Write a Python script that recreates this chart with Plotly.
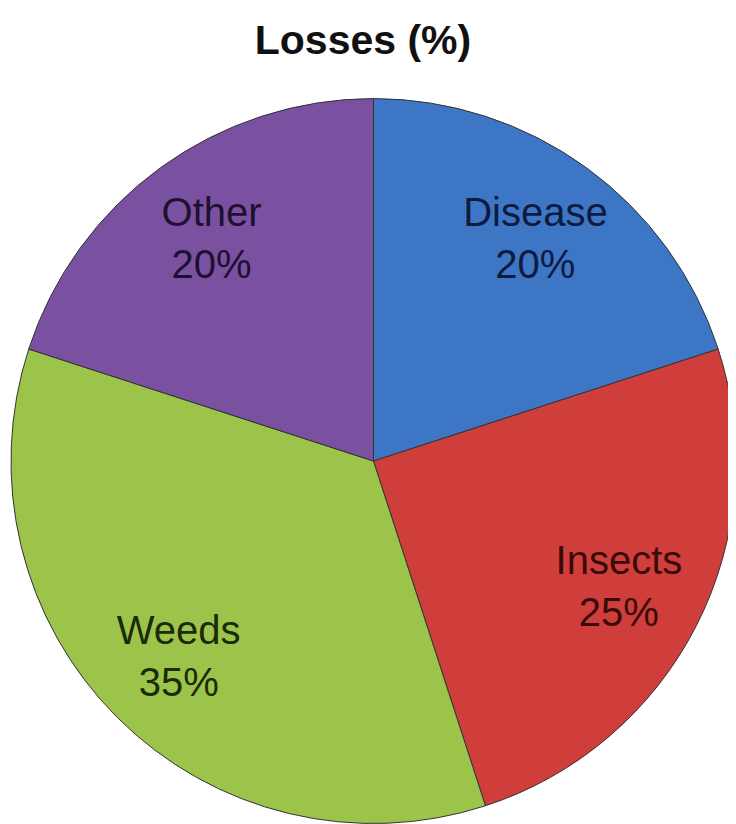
import plotly.graph_objects as go

categories = ["Disease", "Insects", "Weeds", "Other"]
values = [20, 25, 35, 20]
colors = ["#3D76C4", "#CF3E3A", "#9DC44A", "#7A51A0"]
text_colors = ["#0E1B40", "#3A0A0A", "#1C2A08", "#1E1030"]

FONT = "Liberation Sans, Arial, sans-serif"
pie_domain = dict(x=[0.004, 1.0], y=[0.0006, 0.889])

fig = go.Figure()

# filled slices
fig.add_trace(go.Pie(
    labels=categories,
    values=values,
    sort=False,
    direction="clockwise",
    rotation=0,
    marker=dict(colors=colors, line=dict(color="#333333", width=1)),
    textinfo="none",
    domain=pie_domain,
    showlegend=False,
    hoverinfo="label+percent",
))

# transparent ring carrying the slice labels further out
fig.add_trace(go.Pie(
    labels=categories,
    values=values,
    sort=False,
    direction="clockwise",
    rotation=0,
    hole=0.52,
    marker=dict(colors=["rgba(0,0,0,0)"] * len(values), line=dict(width=0)),
    texttemplate="%{label}<br>%{percent:.0%}",
    textposition="inside",
    insidetextorientation="horizontal",
    textfont=dict(family=FONT, size=40, color=text_colors),
    domain=pie_domain,
    showlegend=False,
    hoverinfo="skip",
))

fig.update_layout(
    width=728,
    height=816,
    margin=dict(l=0, r=0, t=0, b=0),
    paper_bgcolor="white",
    plot_bgcolor="white",
    title=dict(
        text="<b>Losses (%)</b>",
        x=0.4876,
        xanchor="center",
        y=0.961,
        yanchor="middle",
        font=dict(family=FONT, size=41, color="#111111"),
    ),
)

fig.write_html("out.html")
